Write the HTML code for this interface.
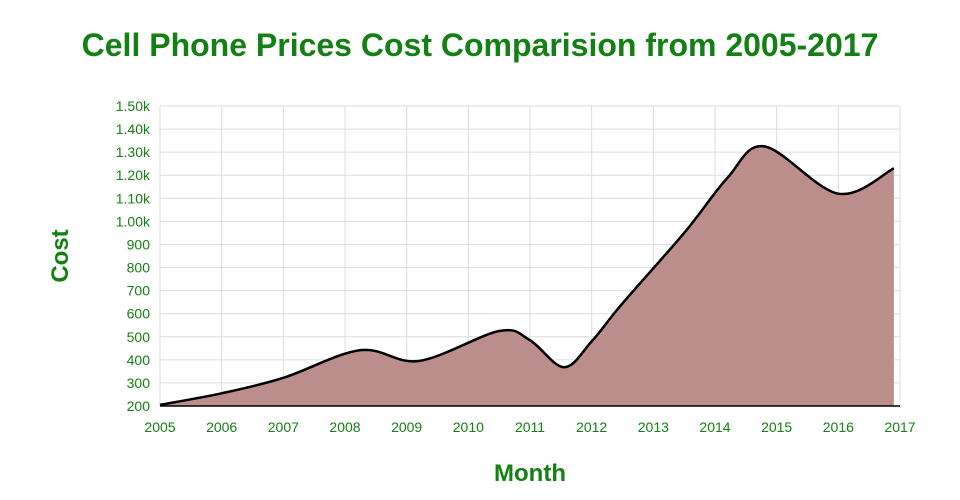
<!DOCTYPE html>
<html><head><meta charset="utf-8"><style>
body{margin:0;background:#fff;width:960px;height:500px;overflow:hidden}
svg{display:block;font-family:"Liberation Sans",sans-serif}
</style></head><body>
<svg id="chart" width="960" height="500">
<text x="480" y="56" text-anchor="middle" font-size="32" font-weight="bold" fill="#138013">Cell Phone Prices Cost Comparision from 2005-2017</text>
<text x="530" y="481" text-anchor="middle" font-size="24" font-weight="bold" fill="#138013">Month</text>
<text transform="translate(68,256) rotate(-90)" text-anchor="middle" font-size="24" font-weight="bold" fill="#138013">Cost</text>
<g id="grid"></g><g id="area"></g><g id="axes"></g>
</svg>
<script>
const xTicks=[2005,2006,2007,2008,2009,2010,2011,2012,2013,2014,2015,2016,2017];
const yTicks=[200,300,400,500,600,700,800,900,1000,1100,1200,1300,1400,1500];
const yTickLabels=["200","300","400","500","600","700","800","900","1.00k","1.10k","1.20k","1.30k","1.40k","1.50k"];
const years=[2005,2006,2007,2008.25,2009.2,2010.5,2011,2011.55,2012,2012.5,2013.5,2014.2,2014.8,2016,2016.9];
const costs=[205,255,322,442,395,525,485,368,480,645,950,1188,1325,1120,1230];
const NS="http://www.w3.org/2000/svg";
const X0=160,X1=900,Y0=406,Y1=106;
const xs=v=>X0+(v-2005)/(2017-2005)*(X1-X0);
const ys=v=>Y0-(v-200)/(1500-200)*(Y0-Y1);
function mk(t,a,p){const e=document.createElementNS(NS,t);for(const k in a)e.setAttribute(k,a[k]);p.appendChild(e);return e;}
const g=document.getElementById('grid'),ar=document.getElementById('area'),ax=document.getElementById('axes');
xTicks.forEach(t=>{
 const l=mk('line',{x1:xs(t),x2:xs(t),y1:Y1,y2:Y0,stroke:'#dcdcdc','stroke-width':1},g);
 
 
 const tx=mk('text',{x:xs(t),y:Y0+26,'text-anchor':'middle','font-size':14,fill:'#138013'},ax);
 tx.textContent=t;
 
 
});
yTicks.forEach((t,i)=>{
 const l=mk('line',{x1:X0,x2:X1,y1:ys(t),y2:ys(t),stroke:'#dcdcdc','stroke-width':1},g);
 
 
 const tx=mk('text',{x:X0-10,y:ys(t)+5,'text-anchor':'end','font-size':14,fill:'#138013'},ax);
 tx.textContent=yTickLabels[i];
 
 
});
const P=years.map((y,i)=>[xs(y),ys(costs[i])]);
let d=`M${P[0][0]},${P[0][1]}`;
for(let i=0;i<P.length-1;i++){
 const p0=P[i-1]||P[i],p1=P[i],p2=P[i+1],p3=P[i+2]||P[i+1];
 const c1=[p1[0]+(p2[0]-p0[0])/6,p1[1]+(p2[1]-p0[1])/6];
 const c2=[p2[0]-(p3[0]-p1[0])/6,p2[1]-(p3[1]-p1[1])/6];
 d+=` C${c1[0]},${c1[1]} ${c2[0]},${c2[1]} ${p2[0]},${p2[1]}`;
}
const last=P[P.length-1];
const fill=mk('path',{d:d+` L${last[0]},${Y0} L${P[0][0]},${Y0} Z`,fill:'#bb8e8c'},ar);


const line=mk('path',{d:d,fill:'none',stroke:'#000','stroke-width':2.5},ar);


const xa=mk('line',{x1:X0,x2:X1,y1:Y0,y2:Y0,stroke:'#000','stroke-width':1.5},ax);


</script>
</body></html>
